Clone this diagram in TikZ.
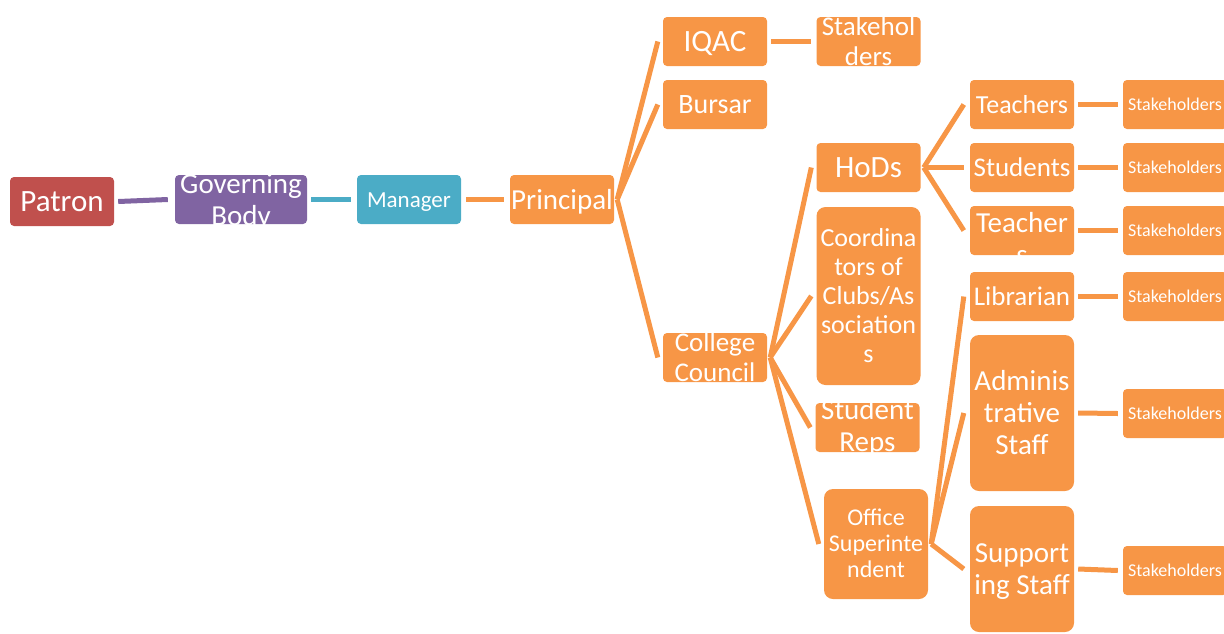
\documentclass[tikz,border=0pt]{standalone}
\usepackage{fontspec}
\setmainfont{Carlito}
\definecolor{patronred}{HTML}{C0504D}
\definecolor{bodypurple}{HTML}{8064A2}
\definecolor{managerteal}{HTML}{4BACC6}
\definecolor{staffong}{HTML}{F79646}
\newcommand\fsz[1]{\fontsize{#1}{\the\numexpr#1*11/10\relax}\selectfont}
\newcommand\linestrut{\rule[-0.19em]{0pt}{1.04em}}
\tikzset{
	box/.style={fill=#1, rounded corners=4, inner sep=0, minimum width=104, minimum height=49},
	box/.default=staffong,
	tall/.style={box, rounded corners=9, minimum height=#1},
	txt/.style={text=white, align=center, inner sep=0,
		execute at begin node=\linestrut, execute at end node=\linestrut},
	conn/.style={draw=#1, line width=5},
	conn/.default=staffong
}
\begin{document}
\begin{tikzpicture}[x=1pt, y=-1pt]
	\useasboundingbox (0,0) rectangle (1224,633);
	\clip (0,0) rectangle (1224,633);
	% main chain
	\node[box=patronred] (patron) at (62,201.5) {};
	\node[box=bodypurple, minimum width=132] (govbody) at (241,199.5) {};
	\node[box=managerteal] (manager) at (409,199.5) {};
	\node[box] (principal) at (562,199.5) {};
	\node[txt, font=\fsz{31}] (patron-t) at (patron) {Patron};
	\node[txt, font=\fsz{29}] (govbody-t) at (govbody) {\linestrut Governing\\Body};
	\node[txt, font=\fsz{23}] (manager-t) at (manager) {Manager};
	\node[txt, font=\fsz{29}] (principal-t) at (principal) {Principal};
	% under the principal
	\node[box] (iqac) at (715,41.5) {};
	\node[box] (stakeiqac) at (868.5,41.5) {};
	\node[box] (bursar) at (715,104.5) {};
	\node[box] (council) at (715,357.5) {};
	\node[txt, font=\fsz{31}] (iqac-t) at (iqac) {IQAC};
	\node[txt, font=\fsz{27}] (stakeiqac-t) at (stakeiqac) {\linestrut Stakehol\\ders};
	\node[txt, font=\fsz{28}] (bursar-t) at (bursar) {Bursar};
	\node[txt, font=\fsz{27}] (council-t) at (council) {\linestrut College\\Council};
	% under the college council
	\node[box] (hods) at (868.5,167.5) {};
	\node[tall=178] (coord) at (868.5,296) {};
	\node[box] (reps) at (867.5,427.5) {};
	\node[tall=110] (office) at (876,544) {};
	\node[txt, font=\fsz{31}] (hods-t) at (hods) {HoDs};
	\node[txt, font=\fsz{26}] (coord-t) at (coord) {\linestrut Coordina\\tors of\\Clubs/As\\sociation\\s};
	\node[txt, font=\fsz{29}, yshift=2] (reps-t) at (reps) {\linestrut Student\\Reps};
	\node[txt, font=\fsz{24}] (office-t) at (office) {\linestrut Office\\Superinte\\ndent};
	% third level
	\node[box] (teachers) at (1022,104.5) {};
	\node[box] (students) at (1022,167.5) {};
	\node[box] (teachers2) at (1022,230.5) {};
	\node[box] (librarian) at (1022,296.5) {};
	\node[tall=156] (admin) at (1022,413) {};
	\node[tall=126] (support) at (1022,569) {};
	\node[txt, font=\fsz{26}] (teachers-t) at (teachers) {Teachers};
	\node[txt, font=\fsz{27}] (students-t) at (students) {Students};
	\node[txt, font=\fsz{29}, yshift=-8] (teachers2-t) at (teachers2) {\linestrut Teacher\\s};
	\node[txt, font=\fsz{27}] (librarian-t) at (librarian) {Librarian};
	\node[txt, font=\fsz{29}] (admin-t) at (admin) {\linestrut Adminis\\trative\\Staff};
	\node[txt, font=\fsz{29}] (support-t) at (support) {\linestrut Support\\ing Staff};
	\foreach \y [count=\i] in {104.5,167.5,230.5,296.5,413.5,570.5} {
		\node[box] (stake\i) at (1175,\y) {};
		\node[txt, font=\fsz{18}] (stake\i-t) at (stake\i) {Stakeholders};
	}
	% connectors
	\draw[conn=bodypurple] ([xshift=4]patron.east) -- ([xshift=-7]govbody.west);
	\draw[conn=managerteal] ([xshift=4]govbody.east) -- ([xshift=-6]manager.west);
	\draw[conn] ([xshift=5]manager.east) -- ([xshift=-6]principal.west);
	\foreach \c in {iqac,bursar,council}
		\draw[conn] ([xshift=3]principal.east) -- ([xshift=-5]\c.west);
	\foreach \c in {hods,coord,reps,office}
		\draw[conn] ([xshift=3]council.east) -- ([xshift=-5]\c.west);
	\foreach \c in {teachers,students,teachers2}
		\draw[conn] ([xshift=3]hods.east) -- ([xshift=-6]\c.west);
	\foreach \c in {librarian,admin,support}
		\draw[conn] ([xshift=3]office.east) -- ([xshift=-6]\c.west);
	\foreach \a/\b in {iqac/stakeiqac,teachers/stake1,students/stake2,teachers2/stake3,librarian/stake4,admin/stake5,support/stake6}
		\draw[conn] ([xshift=4]\a.east) -- ([xshift=-5]\b.west);
\end{tikzpicture}
\end{document}
